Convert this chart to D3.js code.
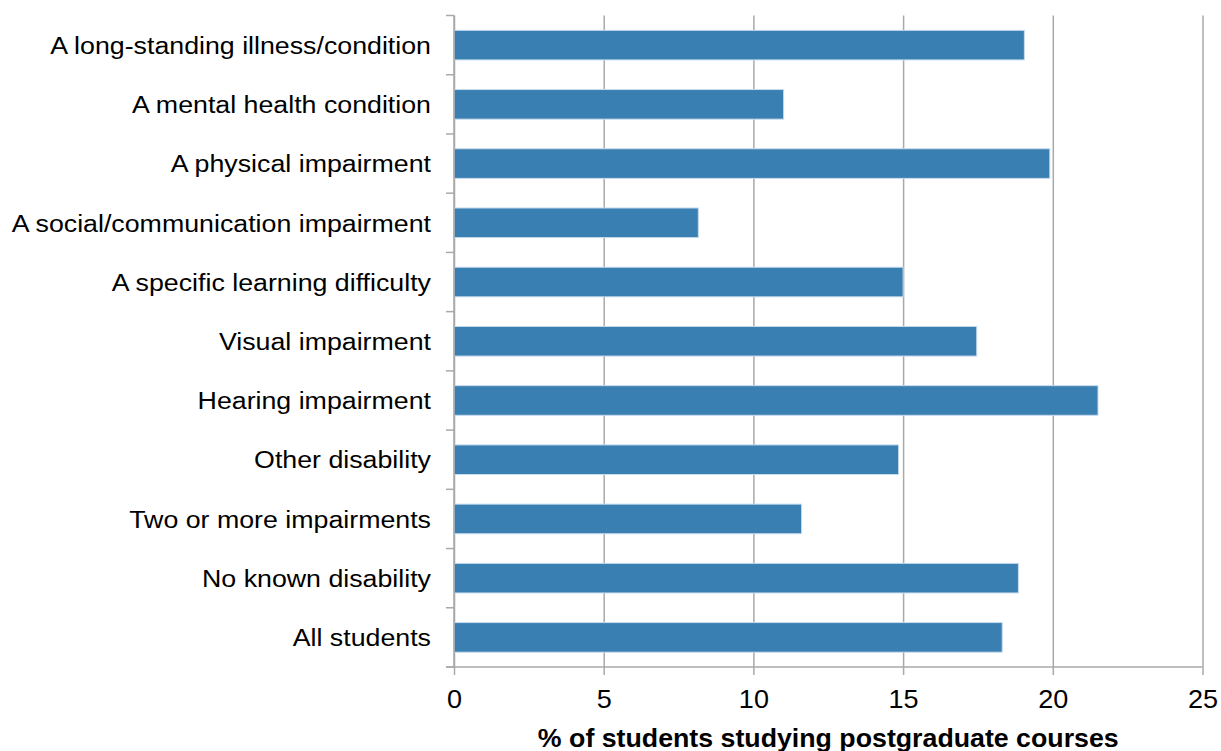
<!DOCTYPE html>
<html>
<head>
<meta charset="utf-8">
<script src="https://cdn.jsdelivr.net/npm/d3@7"></script>
<style>
  html, body { margin: 0; padding: 0; background: #ffffff; }
  svg { display: block; font-family: "Liberation Sans", Arial, sans-serif; }
</style>
</head>
<body>
<svg id="chart" width="1221" height="751"></svg>
<script>
const categories = [
  "A long-standing illness/condition",
  "A mental health condition",
  "A physical impairment",
  "A social/communication impairment",
  "A specific learning difficulty",
  "Visual impairment",
  "Hearing impairment",
  "Other disability",
  "Two or more impairments",
  "No known disability",
  "All students"
];
const values = [19.05, 11.01, 19.9, 8.16, 15.0, 17.46, 21.51, 14.85, 11.61, 18.85, 18.31];
const xTicks = [0, 5, 10, 15, 20, 25];
const xTitle = "% of students studying postgraduate courses";

(function () {
const svg = d3.select("#chart");
const pLeft = 454, pRight = 1202.5, pTop = 15.5, pBottom = 667;
const stretch = 1.164;

const x = d3.scaleLinear().domain([0, 25]).range([pLeft, pRight]);
const y = d3.scaleBand().domain(categories).range([pTop, pBottom])
  .paddingInner(0.5).paddingOuter(0.25);

const gridColor = "#a9a9a9";

// vertical gridlines via axis
const grid = svg.append("g")
  .attr("transform", `translate(0,${pBottom})`)
  .call(d3.axisBottom(x).tickValues(xTicks).tickSize(-(pBottom - pTop)).tickFormat(""));
grid.select(".domain").remove();
grid.selectAll("line").attr("stroke", gridColor).attr("stroke-width", 1.5);

// bars
svg.append("g").selectAll("rect")
  .data(categories)
  .join("rect")
  .attr("x", x(0))
  .attr("y", d => y(d))
  .attr("width", (d, i) => x(values[i]) - x(0))
  .attr("height", y.bandwidth())
  .attr("fill", "#3a7fb1")
  .attr("stroke", "#c8dcee")
  .attr("stroke-width", 1);

// x axis
const xAxis = svg.append("g")
  .attr("transform", `translate(0,${pBottom})`)
  .call(d3.axisBottom(x).tickValues(xTicks).tickSize(8).tickPadding(0));
xAxis.select(".domain")
  .attr("d", `M${pLeft - 8},0H${pRight}`)
  .attr("stroke", gridColor).attr("stroke-width", 1.5);
xAxis.selectAll(".tick line").attr("stroke", gridColor).attr("stroke-width", 1.5);
xAxis.selectAll(".tick text")
  .attr("y", 0).attr("dy", null)
  .attr("font-size", 26)
  .attr("fill", "#000")
  .attr("transform", `translate(0,41) scale(1.04,1)`)
  .style("font-family", '"Liberation Sans", Arial, sans-serif');

// y axis (labels)
const yAxis = svg.append("g")
  .attr("transform", `translate(${pLeft},0)`)
  .call(d3.axisLeft(y).tickSize(0).tickPadding(0));
yAxis.select(".domain")
  .attr("d", `M0,${pTop}V${pBottom}`)
  .attr("stroke", gridColor).attr("stroke-width", 1.5);
yAxis.selectAll(".tick text")
  .attr("x", 0)
  .attr("dy", "0.38em")
  .attr("font-size", 23)
  .attr("fill", "#000")
  .attr("transform", `translate(-23,0) scale(${stretch},1)`)
  .style("font-family", '"Liberation Sans", Arial, sans-serif');

// y boundary ticks
const bounds = d3.range(categories.length + 1).map(i => pTop + i * y.step());
svg.append("g").selectAll("line")
  .data(bounds)
  .join("line")
  .attr("x1", pLeft - 8).attr("x2", pLeft)
  .attr("y1", d => d).attr("y2", d => d)
  .attr("stroke", gridColor).attr("stroke-width", 1.5);

// x title
svg.append("text")
  .attr("transform", `translate(${(pLeft + pRight) / 2},747) scale(1.07,1)`)
  .attr("text-anchor", "middle")
  .attr("font-size", 25)
  .attr("font-weight", "bold")
  .attr("fill", "#000")
  .text(xTitle);
})();
</script>
</body>
</html>
